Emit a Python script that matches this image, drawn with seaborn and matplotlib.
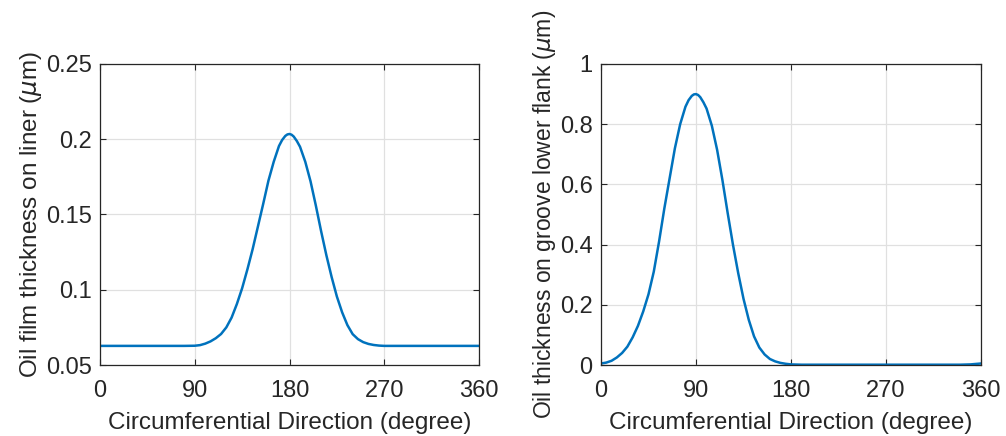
import numpy as np
import pandas as pd
import matplotlib
matplotlib.use("Agg")
import matplotlib.pyplot as plt
import seaborn as sns

# ---- data ----
angle_liner = [0, 10, 20, 30, 40, 50, 60, 70, 80, 90, 95, 100, 105, 110, 115, 120, 125, 130,
               135, 140, 145, 150, 155, 160, 165, 170, 173, 176, 178, 180, 182, 184, 187, 190,
               195, 200, 205, 210, 215, 220, 225, 230, 235, 240, 245, 250, 255, 260, 265, 270,
               280, 290, 300, 310, 320, 330, 340, 350, 360]
thick_liner = [0.0627, 0.0627, 0.0627, 0.0627, 0.0627, 0.0627, 0.0627, 0.0627, 0.0627, 0.0628,
               0.0632, 0.0642, 0.0657, 0.0678, 0.0706, 0.0750, 0.0815, 0.0905,
               0.1010, 0.1135, 0.1270, 0.1420, 0.1570, 0.1725, 0.1850, 0.1955, 0.1995, 0.2022,
               0.2032, 0.2035, 0.2030, 0.2018, 0.1988, 0.1950, 0.1850, 0.1720, 0.1560, 0.1390,
               0.1230, 0.1085, 0.0955, 0.0850, 0.0765, 0.0705, 0.0672, 0.0652, 0.0640, 0.0633,
               0.0629, 0.0627, 0.0627, 0.0627, 0.0627, 0.0627, 0.0627, 0.0627, 0.0627, 0.0627,
               0.0627]

angle_flank = [0, 5, 10, 15, 20, 25, 30, 35, 40, 45, 50, 55, 60, 65, 70, 75, 80, 83, 86, 88,
               90, 92, 94, 97, 100, 105, 110, 115, 120, 125, 130, 135, 140, 145, 150, 155,
               160, 165, 170, 175, 180, 190, 200, 220, 240, 260, 280, 300, 320, 340, 350, 360]
thick_flank = [0.005, 0.008, 0.014, 0.025, 0.040, 0.061, 0.092, 0.130, 0.178, 0.235, 0.310,
               0.410, 0.520, 0.620, 0.720, 0.800, 0.858, 0.880, 0.894, 0.899, 0.900, 0.897,
               0.890, 0.873, 0.852, 0.795, 0.715, 0.615, 0.505, 0.400, 0.305, 0.220, 0.150,
               0.095, 0.058, 0.035, 0.020, 0.012, 0.007, 0.004, 0.002, 0.001, 0.001, 0.001,
               0.001, 0.001, 0.001, 0.001, 0.001, 0.001, 0.002, 0.005]

x_ticks = [0, 90, 180, 270, 360]
y_ticks_liner = [0.05, 0.1, 0.15, 0.2, 0.25]
y_ticklabels_liner = ["0.05", "0.1", "0.15", "0.2", "0.25"]
y_ticks_flank = [0, 0.2, 0.4, 0.6, 0.8, 1.0]
y_ticklabels_flank = ["0", "0.2", "0.4", "0.6", "0.8", "1"]

xlabel = "Circumferential Direction (degree)"
ylabel_liner = r"Oil film thickness on liner ($\mu$m)"
ylabel_flank = r"Oil thickness on groove lower flank ($\mu$m)"

# ---- style ----
sns.set_theme(style="whitegrid")
plt.rcParams["font.family"] = ["Liberation Sans", "DejaVu Sans"]
plt.rcParams["mathtext.fontset"] = "dejavusans"

line_color = "#0072BD"
axis_color = "#262626"

fig = plt.figure(figsize=(10.06, 4.36), dpi=100)
fig.patch.set_facecolor("white")
ax1 = fig.add_axes([100 / 1006, 71 / 436, 379 / 1006, 301 / 436])
ax2 = fig.add_axes([601 / 1006, 71 / 436, 380 / 1006, 301 / 436])

df1 = pd.DataFrame({"angle": angle_liner, "thick": thick_liner})
df2 = pd.DataFrame({"angle": angle_flank, "thick": thick_flank})

sns.lineplot(data=df1, x="angle", y="thick", ax=ax1, color=line_color, linewidth=1.8)
sns.lineplot(data=df2, x="angle", y="thick", ax=ax2, color=line_color, linewidth=1.8)

setups = [
    (ax1, (0.05, 0.25), y_ticks_liner, y_ticklabels_liner, ylabel_liner, 17.5),
    (ax2, (0, 1), y_ticks_flank, y_ticklabels_flank, ylabel_flank, 16.5),
]
for ax, ylim, yt, ytl, yl, yfs in setups:
    ax.set_facecolor("white")
    ax.set_xlim(0, 360)
    ax.set_ylim(*ylim)
    ax.set_xticks(x_ticks)
    ax.set_xticklabels([str(t) for t in x_ticks])
    ax.set_yticks(yt)
    ax.set_yticklabels(ytl)
    ax.grid(True, color="#e0e0e0", linewidth=0.9)
    for s in ax.spines.values():
        s.set_visible(True)
        s.set_color(axis_color)
        s.set_linewidth(0.9)
    ax.tick_params(direction="in", length=4, width=0.8, colors=axis_color,
                   labelsize=17, top=True, right=True, bottom=True, left=True,
                   labelcolor=axis_color)
    ax.tick_params(axis="x", pad=11)
    ax.tick_params(axis="y", pad=6)
    ax.set_xlabel(xlabel, fontsize=17.5, color=axis_color, labelpad=7)
    ax.set_ylabel(yl, fontsize=yfs, color=axis_color, labelpad=1)

fig.savefig("out.png", dpi=100, facecolor="white")
